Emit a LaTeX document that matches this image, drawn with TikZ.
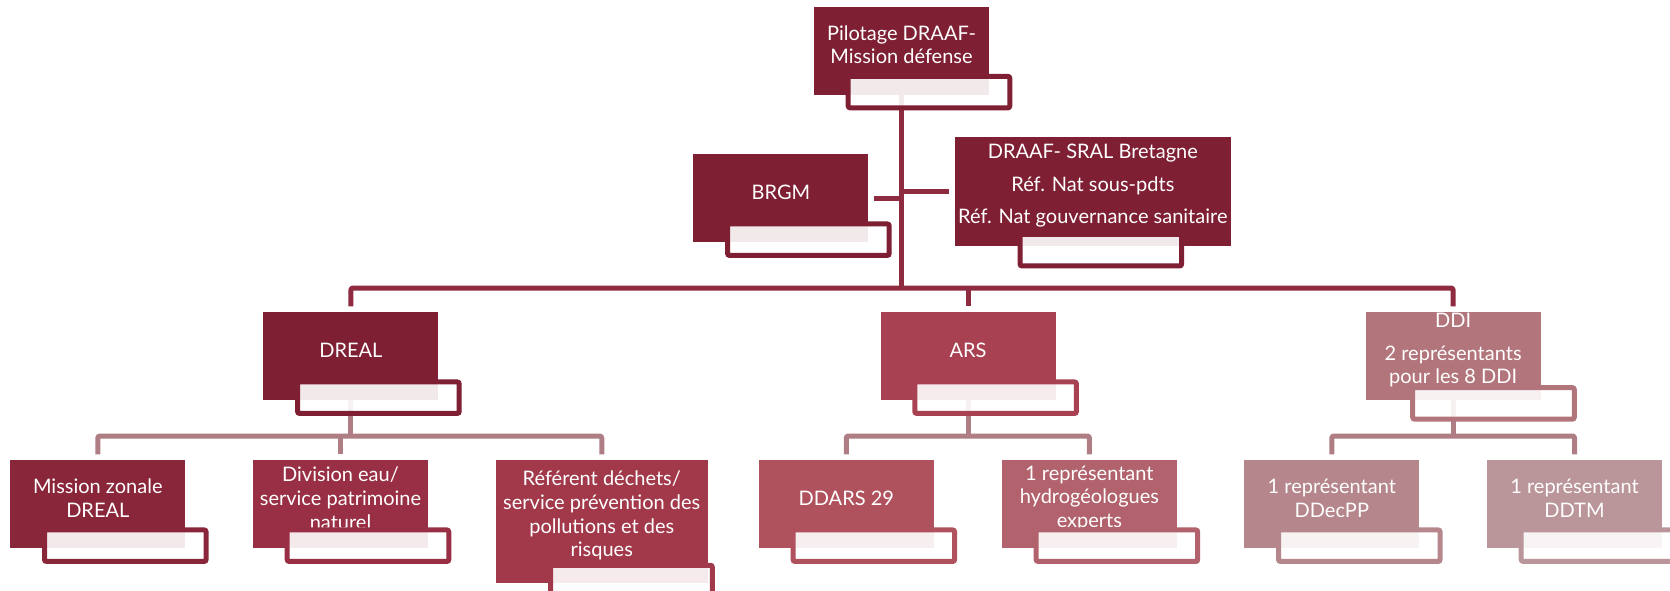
\documentclass[tikz,border=0pt]{standalone}
\usepackage{fontspec}
\setmainfont{Lato}
\usetikzlibrary{backgrounds}

\definecolor{cZero}{HTML}{7E1F33}
\definecolor{cMission}{HTML}{8A2639}
\definecolor{cDivision}{HTML}{982F44}
\definecolor{cReferent}{HTML}{A2394B}
\definecolor{cArs}{HTML}{A84252}
\definecolor{cDdars}{HTML}{B0525E}
\definecolor{cHydro}{HTML}{B1626C}
\definecolor{cDdi}{HTML}{B2757B}
\definecolor{cDdecpp}{HTML}{B5868B}
\definecolor{cDdtm}{HTML}{BA9599}
\definecolor{lineTop}{HTML}{8E2B40}
\definecolor{lineSub}{HTML}{AF7D84}

\tikzset{
  box/.style={rectangle, fill=#1, minimum width=175pt, minimum height=88pt,
    inner sep=0pt, outer sep=0pt, anchor=north west},
  tab/.style={rectangle, draw=#1, line width=5pt, fill=white, fill opacity=0.9,
    rounded corners=2pt, minimum width=161.6pt, minimum height=31.5pt, inner sep=0pt},
  boxtext/.style={text=white, align=center, inner sep=0pt,
    font=\fontsize{20}{23.7}\selectfont},
  topline/.style={draw=lineTop, line width=5pt, line join=round, rounded corners=2pt},
  subline/.style={draw=lineSub, line width=5pt, line join=round, rounded corners=2pt},
}

\begin{document}
\begin{tikzpicture}[x=1pt, y=-1pt]
  \useasboundingbox (0,0) rectangle (1670,591);
  \clip (0,0) rectangle (1670,591);

  % top level
  \node[box=cZero] (pilot) at (814,6.7) {};
  \node[boxtext] (pilot-text) at ([yshift=6pt]pilot.center) {Pilotage DRAAF-\\Mission défense};
  \node[tab=cZero] (pilot-tab) at ([shift={(115,-2.6)}]pilot.south west) {};

  \node[box=cZero] (brgm) at (693.4,154.3) {};
  \node[boxtext] (brgm-text) at ([yshift=6pt]brgm.center) {BRGM};
  \node[tab=cZero] (brgm-tab) at ([shift={(115,-2.6)}]brgm.south west) {};

  \node[box=cZero, minimum width=275.7pt, minimum height=108.7pt] (draaf) at (955,137.3) {};
  \node[boxtext] (draaf-text) at ([yshift=6pt]draaf.center)
    {DRAAF- SRAL Bretagne\\[9pt]Réf. Nat sous-pdts\\[9pt]Réf. Nat gouvernance sanitaire};
  \node[tab=cZero] (draaf-tab) at ([shift={(145.8,4.2)}]draaf.south west) {};

  % second level
  \node[box=cZero] (dreal) at (263.4,312.3) {};
  \node[boxtext] (dreal-text) at ([yshift=6pt]dreal.center) {DREAL};
  \node[tab=cZero] (dreal-tab) at ([shift={(115,-2.6)}]dreal.south west) {};

  \node[box=cArs] (ars) at (880.6,312.3) {};
  \node[boxtext] (ars-text) at ([yshift=6pt]ars.center) {ARS};
  \node[tab=cArs] (ars-tab) at ([shift={(115,-2.6)}]ars.south west) {};

  \node[box=cDdi] (ddi) at (1365.6,312.3) {};
  \node[boxtext] (ddi-text) at ([yshift=6pt]ddi.center) {DDI\\[9pt]2 représentants\\pour les 8 DDI};
  \node[tab=cDdi] (ddi-tab) at ([shift={(127.9,3.1)}]ddi.south west) {};

  % third level
  \node[box=cMission] (mission) at (10.3,460.3) {};
  \node[boxtext] (mission-text) at ([yshift=6pt]mission.center) {Mission zonale\\DREAL};
  \node[tab=cMission] (mission-tab) at ([shift={(115,-2.6)}]mission.south west) {};

  \node[box=cDivision] (division) at (253,460.3) {};
  \node[boxtext] (division-text) at ([yshift=6pt]division.center) {Division eau/\\service patrimoine\\naturel};
  \node[tab=cDivision] (division-tab) at ([shift={(115,-2.6)}]division.south west) {};

  \node[box=cReferent, minimum width=212.5pt, minimum height=122.4pt] (referent) at (495.5,460.3) {};
  \node[boxtext] (referent-text) at ([yshift=6pt]referent.center)
    {Référent déchets/\\service prévention des\\pollutions et des\\risques};
  \node[tab=cReferent] (referent-tab) at ([shift={(136,-1.7)}]referent.south west) {};

  \node[box=cDdars] (ddars) at (758.8,460.3) {};
  \node[boxtext] (ddars-text) at ([yshift=6pt]ddars.center) {DDARS 29};
  \node[tab=cDdars] (ddars-tab) at ([shift={(115,-2.6)}]ddars.south west) {};

  \node[box=cHydro] (hydro) at (1001.9,460.3) {};
  \node[boxtext] (hydro-text) at ([yshift=6pt]hydro.center) {1 représentant\\hydrogéologues\\experts};
  \node[tab=cHydro] (hydro-tab) at ([shift={(115,-2.6)}]hydro.south west) {};

  \node[box=cDdecpp] (ddecpp) at (1244.3,460.3) {};
  \node[boxtext] (ddecpp-text) at ([yshift=6pt]ddecpp.center) {1 représentant\\DDecPP};
  \node[tab=cDdecpp] (ddecpp-tab) at ([shift={(115,-2.6)}]ddecpp.south west) {};

  \node[box=cDdtm] (ddtm) at (1487,460.3) {};
  \node[boxtext] (ddtm-text) at ([yshift=6pt]ddtm.center) {1 représentant\\DDTM};
  \node[tab=cDdtm] (ddtm-tab) at ([shift={(115,-2.6)}]ddtm.south west) {};

  % connectors
  \begin{scope}[on background layer]
    \coordinate (hub) at (pilot.south |- 0,288);
    \draw[topline] (pilot.south) -- (hub);
    \draw[topline, shorten <=6pt] (brgm.east) -- (brgm.east -| hub);
    \draw[topline, shorten <=6pt] (draaf.west) -- (draaf.west -| hub);
    \draw[topline, shorten <=6pt, shorten >=6pt] (dreal.north) |- (hub) -| (ddi.north);
    \draw[topline, shorten >=6pt] (ars.north |- hub) -- (ars.north);

    \coordinate (dreal-hub) at (dreal.south |- 0,436);
    \draw[subline] (dreal.south) -- (dreal-hub);
    \draw[subline, shorten <=6pt, shorten >=6pt] (mission.north) |- (dreal-hub) -| (referent.north);
    \draw[subline, shorten >=6pt] (division.north |- dreal-hub) -- (division.north);

    \coordinate (ars-hub) at (ars.south |- 0,436);
    \draw[subline] (ars.south) -- (ars-hub);
    \draw[subline, shorten <=6pt, shorten >=6pt] (ddars.north) |- (ars-hub) -| (hydro.north);

    \coordinate (ddi-hub) at (ddi.south |- 0,436);
    \draw[subline] (ddi.south) -- (ddi-hub);
    \draw[subline, shorten <=6pt, shorten >=6pt] (ddecpp.north) |- (ddi-hub) -| (ddtm.north);
  \end{scope}
\end{tikzpicture}
\end{document}
